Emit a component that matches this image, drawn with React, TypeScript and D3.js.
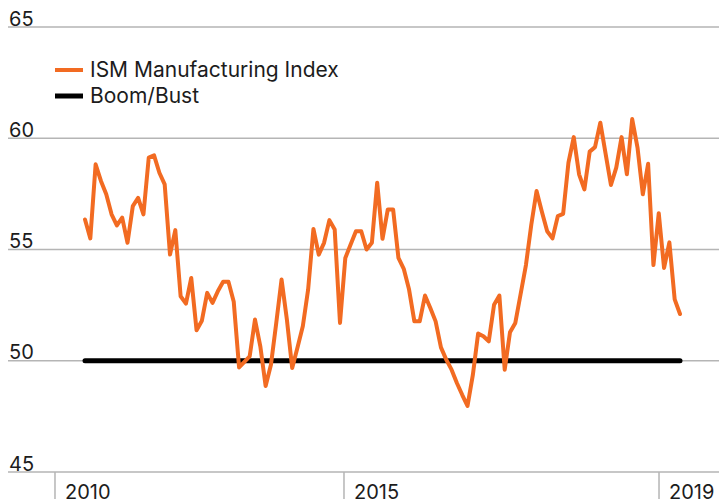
import React from "react";
import * as d3 from "d3";

const ismValues: number[] = [
  56.35, 55.5, 58.83, 58.08, 57.48, 56.58, 56.08, 56.43, 55.3, 56.95, 57.32, 56.58,
  59.13, 59.23, 58.45, 57.93, 54.77, 55.87, 52.9, 52.57, 53.72, 51.37, 51.8, 53.05,
  52.6, 53.12, 53.55, 53.55, 52.65, 49.7, 49.95, 50.2, 51.85, 50.65, 48.87, 49.82,
  51.7, 53.65, 51.85, 49.67, 50.6, 51.55, 53.2, 55.92, 54.77, 55.3, 56.32, 55.9,
  51.7, 54.62, 55.22, 55.82, 55.82, 55.0, 55.3, 58.0, 55.48, 56.8, 56.8, 54.62,
  54.13, 53.2, 51.77, 51.77, 52.93, 52.37, 51.77, 50.6, 50.05, 49.6, 49.0, 48.47,
  47.97, 49.35, 51.22, 51.1, 50.87, 52.52, 52.93, 49.6, 51.28, 51.7, 53.0, 54.3,
  56.1, 57.63, 56.7, 55.82, 55.5, 56.5, 56.6, 58.9, 60.05, 58.38, 57.7, 59.4,
  59.6, 60.7, 59.3, 57.9, 58.68, 60.05, 58.38, 60.86, 59.58, 57.48, 58.85, 54.3,
  56.63, 54.17, 55.32, 52.76, 52.1,
];
const boomBust = 50;
const yTicks: number[] = [45, 50, 55, 60, 65];
const xTickLabels: string[] = ["2010", "2015", "2019"];
const xTickMonthIndex: number[] = [-5.65, 48.75, 108.05];
const seriesNames: string[] = ["ISM Manufacturing Index", "Boom/Bust"];

const W = 719;
const H = 499;
const ORANGE = "#f26b22";
const GRID = "#b5b5b5";
const TEXT = "#1c1c1c";
const FONT = "Inter, 'Noto Sans', sans-serif";

export default function App() {
  const x = d3.scaleLinear().domain([0, ismValues.length - 1]).range([85, 680]);
  const y = d3.scaleLinear().domain([45, 65]).range([472, 27]);
  const line = d3
    .line<number>()
    .x((_, i) => x(i))
    .y((d) => y(d));
  const bbLine = d3
    .line<number>()
    .x((_, i) => x(i === 0 ? 0 : ismValues.length - 1))
    .y((d) => y(d));

  return (
    <div style={{ position: "fixed", left: 0, top: 0, width: W, height: H, background: "#fff" }}>
      <svg width={W} height={H} style={{ display: "block" }} fontFamily={FONT}>
        {yTicks.map((t) => (
          <g key={t}>
            <line x1={8} x2={W} y1={y(t)} y2={y(t)} stroke={GRID} strokeWidth={1.5} />
            <text x={9} y={y(t) - 1.5} fontSize={20} fill={TEXT}>
              {t}
            </text>
          </g>
        ))}
        {xTickLabels.map((lab, i) => (
          <g key={lab}>
            <line
              x1={x(xTickMonthIndex[i])}
              x2={x(xTickMonthIndex[i])}
              y1={y(45)}
              y2={H}
              stroke={GRID}
              strokeWidth={1.5}
            />
            <text x={x(xTickMonthIndex[i]) + 10} y={499} fontSize={20} fill={TEXT}>
              {lab}
            </text>
          </g>
        ))}
        <path
          d={bbLine([boomBust, boomBust]) || ""}
          fill="none"
          stroke="#000"
          strokeWidth={5}
          strokeLinecap="round"
        />
        <path
          d={line(ismValues) || ""}
          fill="none"
          stroke={ORANGE}
          strokeWidth={4}
          strokeLinejoin="round"
          strokeLinecap="round"
        />
        <g>
          <line x1={55} x2={83} y1={70} y2={70} stroke={ORANGE} strokeWidth={4} />
          <text x={90} y={77} fontSize={21} fill={TEXT}>
            {seriesNames[0]}
          </text>
          <line x1={55} x2={83} y1={96} y2={96} stroke="#000" strokeWidth={5} />
          <text x={90} y={103} fontSize={21} fill={TEXT}>
            {seriesNames[1]}
          </text>
        </g>
      </svg>
    </div>
  );
}
